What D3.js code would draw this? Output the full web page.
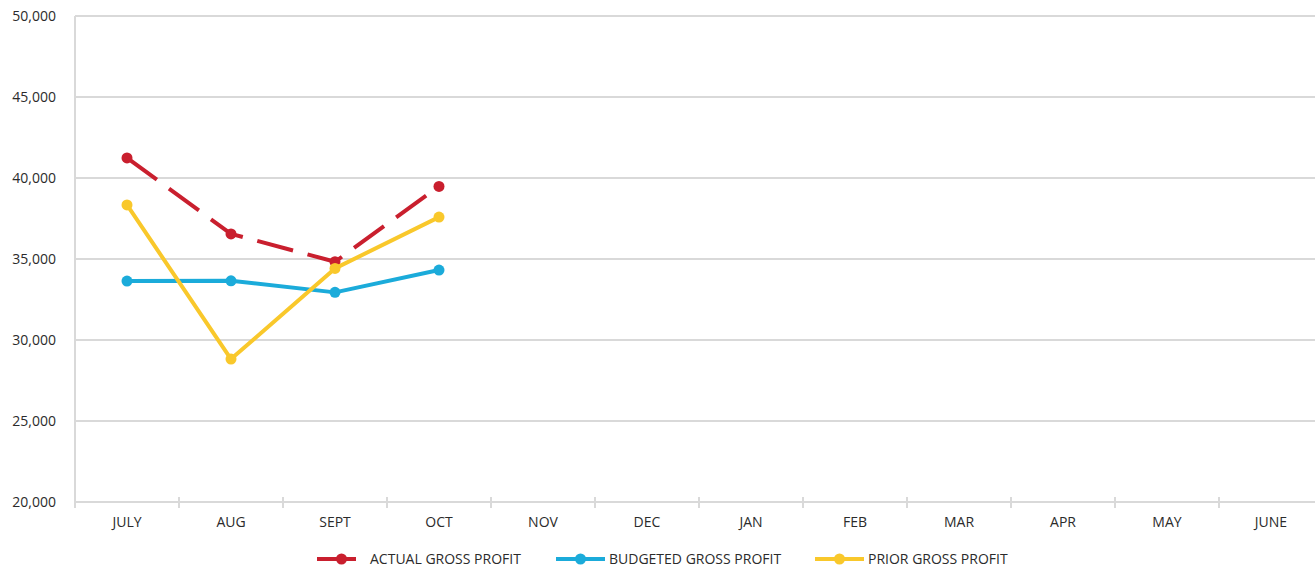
<!DOCTYPE html>
<html lang="en">
<head>
    <meta charset="UTF-8"/>
    <title>Gross profit</title>
    <script src="https://d3js.org/d3.v7.min.js" charset="utf-8"></script>
    <style type="text/css">
        body {
            margin: 0;
            background: #fff;
        }

        text {
            font-family: "Open Sans", sans-serif;
            font-size: 14px;
            fill: #2b2b2b;
        }

        .grid line,
        .axis-line {
            stroke: #d9d9d9;
            stroke-width: 1.3px;
            shape-rendering: crispEdges;
        }

        path.series {
            fill: none;
            stroke-width: 4px;
            stroke-linejoin: round;
        }
    </style>
</head>
<body>
<div id="chart"></div>
<script>
    // data
    var months = ["JULY", "AUG", "SEPT", "OCT", "NOV", "DEC", "JAN", "FEB", "MAR", "APR", "MAY", "JUNE"];
    var actual = [41240, 36550, 34830, 39480];
    var budgeted = [33640, 33655, 32940, 34320];
    var prior = [38340, 28820, 34420, 37585];
    var yTicks = [20000, 25000, 30000, 35000, 40000, 45000, 50000];

    var series = [
        {name: "ACTUAL GROSS PROFIT", values: actual, color: "#c91f2e", dash: "37,15"},
        {name: "BUDGETED GROSS PROFIT", values: budgeted, color: "#1babda", dash: null},
        {name: "PRIOR GROSS PROFIT", values: prior, color: "#f9c82b", dash: null}
    ];

    var W = 1315, H = 570;
    var plotLeft = 75, plotTop = 16, plotBottom = 502;
    var band = 104;

    var svg = d3.select("#chart")
        .append("svg")
        .attr("width", W)
        .attr("height", H);

    var x = d3.scaleBand()
        .domain(months)
        .range([plotLeft, plotLeft + band * months.length]);

    var y = d3.scaleLinear()
        .domain([20000, 50000])
        .range([plotBottom, plotTop]);

    // horizontal gridlines
    svg.append("g")
        .attr("class", "grid")
        .selectAll("line")
        .data(yTicks)
        .enter()
        .append("line")
        .attr("x1", plotLeft)
        .attr("x2", x.range()[1])
        .attr("y1", function (d) { return y(d); })
        .attr("y2", function (d) { return y(d); });

    // left axis line
    svg.append("line")
        .attr("class", "axis-line")
        .attr("x1", plotLeft).attr("x2", plotLeft)
        .attr("y1", plotTop).attr("y2", plotBottom);

    // y labels
    svg.append("g")
        .selectAll("text")
        .data(yTicks)
        .enter()
        .append("text")
        .attr("x", 56)
        .attr("y", function (d) { return y(d); })
        .attr("dy", "0.35em")
        .attr("text-anchor", "end")
        .text(d3.format(","));

    // x axis ticks at band boundaries
    var bounds = months.map(function (m) { return x(m); }).concat([x.range()[1]]);
    svg.append("g")
        .attr("class", "grid")
        .selectAll("line")
        .data(bounds)
        .enter()
        .append("line")
        .attr("x1", function (d) { return d; })
        .attr("x2", function (d) { return d; })
        .attr("y1", plotBottom - 5)
        .attr("y2", plotBottom + 6);

    // x labels
    svg.append("g")
        .selectAll("text")
        .data(months)
        .enter()
        .append("text")
        .attr("x", function (d) { return x(d) + x.bandwidth() / 2; })
        .attr("y", 522)
        .attr("dy", "0.35em")
        .attr("text-anchor", "middle")
        .text(function (d) { return d; });

    var line = d3.line()
        .x(function (d, i) { return x(months[i]) + x.bandwidth() / 2; })
        .y(function (d) { return y(d); });

    // yellow sits over red near SEPT in the reference
    var drawOrder = [series[1], series[0], series[2]];
    drawOrder.forEach(function (s) {
        var g = svg.append("g");
        g.append("path")
            .attr("class", "series")
            .attr("d", line(s.values))
            .attr("stroke", s.color)
            .attr("stroke-dasharray", s.dash);
        g.selectAll("circle")
            .data(s.values)
            .enter()
            .append("circle")
            .attr("cx", function (d, i) { return x(months[i]) + x.bandwidth() / 2; })
            .attr("cy", function (d) { return y(d); })
            .attr("r", 5.5)
            .attr("fill", s.color);
    });

    // legend
    var legendX = [317, 556, 815];
    var legend = svg.append("g");
    series.forEach(function (s, i) {
        var g = legend.append("g").attr("transform", "translate(" + legendX[i] + ",559)");
        g.append("line")
            .attr("x1", 0).attr("x2", 49)
            .attr("stroke", s.color)
            .attr("stroke-width", 4)
            .attr("stroke-dasharray", s.dash ? "39,15" : null);
        g.append("circle")
            .attr("cx", 24.5)
            .attr("r", 5.5)
            .attr("fill", s.color);
        g.append("text")
            .attr("x", 53)
            .attr("dy", "0.35em")
            .text(s.name);
    });
</script>
</body>
</html>
